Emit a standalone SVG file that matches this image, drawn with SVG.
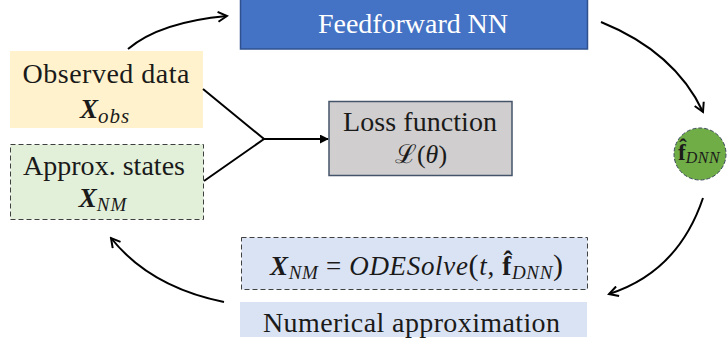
<svg xmlns="http://www.w3.org/2000/svg" width="727" height="343" viewBox="0 0 727 343">
<defs>
<style>
.t{font-family:"Liberation Serif","Times New Roman",serif;fill:#1a1a1a}
.lbl{font-size:28px}
.bi{font-weight:bold;font-style:italic}
.it{font-style:italic}
.conn{fill:none;stroke:#000;stroke-width:2}
</style>
<marker id="open" viewBox="0 0 12 12" refX="10" refY="6" markerWidth="12" markerHeight="12" markerUnits="userSpaceOnUse" orient="auto">
<path d="M1,1 L10,6 L1,11" fill="none" stroke="#000" stroke-width="2"/>
</marker>
<marker id="solid" viewBox="0 0 10 10" refX="9" refY="5" markerWidth="9" markerHeight="9" markerUnits="userSpaceOnUse" orient="auto">
<path d="M0,0 L10,5 L0,10 Z" fill="#000"/>
</marker>
</defs>
<rect width="727" height="343" fill="#fff"/>

<g id="feedforward">
<rect x="240.5" y="-1" width="347" height="50" fill="#4472C4" stroke="#2F528F" stroke-width="1.5"/>
<text class="t lbl" x="413" y="33" text-anchor="middle" textLength="190" style="fill:#fff">Feedforward NN</text>
</g>

<g id="observed">
<rect x="10" y="51" width="193" height="77" fill="#FFF2CC"/>
<text class="t lbl" x="106" y="83" text-anchor="middle" textLength="167">Observed data</text>
<text class="t" x="105" y="118" text-anchor="middle"><tspan class="bi" font-size="27">X</tspan><tspan class="it" font-size="21" dy="5" letter-spacing="1">obs</tspan></text>
</g>

<g id="approx">
<rect x="10.5" y="144.5" width="193" height="75" fill="#E2F0D9" stroke="#404040" stroke-width="1" stroke-dasharray="5,3"/>
<text class="t lbl" x="104" y="175" text-anchor="middle" textLength="162">Approx. states</text>
<text class="t" x="103" y="207" text-anchor="middle"><tspan class="bi" font-size="27">X</tspan><tspan class="it" font-size="19" dy="4" letter-spacing="1">NM</tspan></text>
</g>

<g id="loss">
<rect x="329" y="101.5" width="183" height="74" fill="#D0CECE" stroke="#44546A" stroke-width="1.5"/>
<text class="t lbl" x="420" y="131" text-anchor="middle" textLength="154">Loss function</text>
<text class="t" x="421" y="163" text-anchor="middle" font-size="26">ℒ(<tspan class="it">θ</tspan>)</text>
</g>

<g id="fdnn">
<circle cx="700" cy="154" r="26" fill="#70AD47" stroke="#3A4A5A" stroke-width="1" stroke-dasharray="4,2"/>
<text class="t" x="678" y="160"><tspan font-weight="bold" font-size="23">f̂</tspan><tspan class="it" font-size="16" dy="3" letter-spacing="0.5">DNN</tspan></text>
</g>

<g id="odesolve">
<rect x="241.5" y="237.5" width="346" height="52" fill="#DAE3F3" stroke="#404040" stroke-width="1" stroke-dasharray="5,3"/>
<text class="t" x="270" y="275" font-size="27" textLength="293" lengthAdjust="spacing"><tspan class="bi">X</tspan><tspan class="it" font-size="19" dy="4">NM</tspan><tspan dy="-4"> = </tspan><tspan class="it">ODESolve</tspan><tspan font-size="30">(</tspan><tspan class="it">t</tspan>, <tspan font-weight="bold">f̂</tspan><tspan class="it" font-size="19" dy="4">DNN</tspan><tspan dy="-4" font-size="30">)</tspan></text>
</g>

<g id="numerical">
<rect x="240" y="302" width="347" height="35" fill="#DAE3F3"/>
<text class="t lbl" x="411.5" y="332" text-anchor="middle" textLength="297">Numerical approximation</text>
</g>

<g id="connectors">
<path class="conn" d="M128,49 Q160,22 227,16" marker-end="url(#open)"/>
<path class="conn" d="M601,22 Q675,52 703,112" marker-end="url(#open)"/>
<path class="conn" d="M703,198 Q678,272 609,294" marker-end="url(#open)"/>
<path class="conn" d="M224,302 Q150,287 111,238" marker-end="url(#open)"/>
<path class="conn" d="M203,89 L264,139 L204,181"/>
<path class="conn" d="M264,139 L328,139" marker-end="url(#solid)"/>
</g>
</svg>
